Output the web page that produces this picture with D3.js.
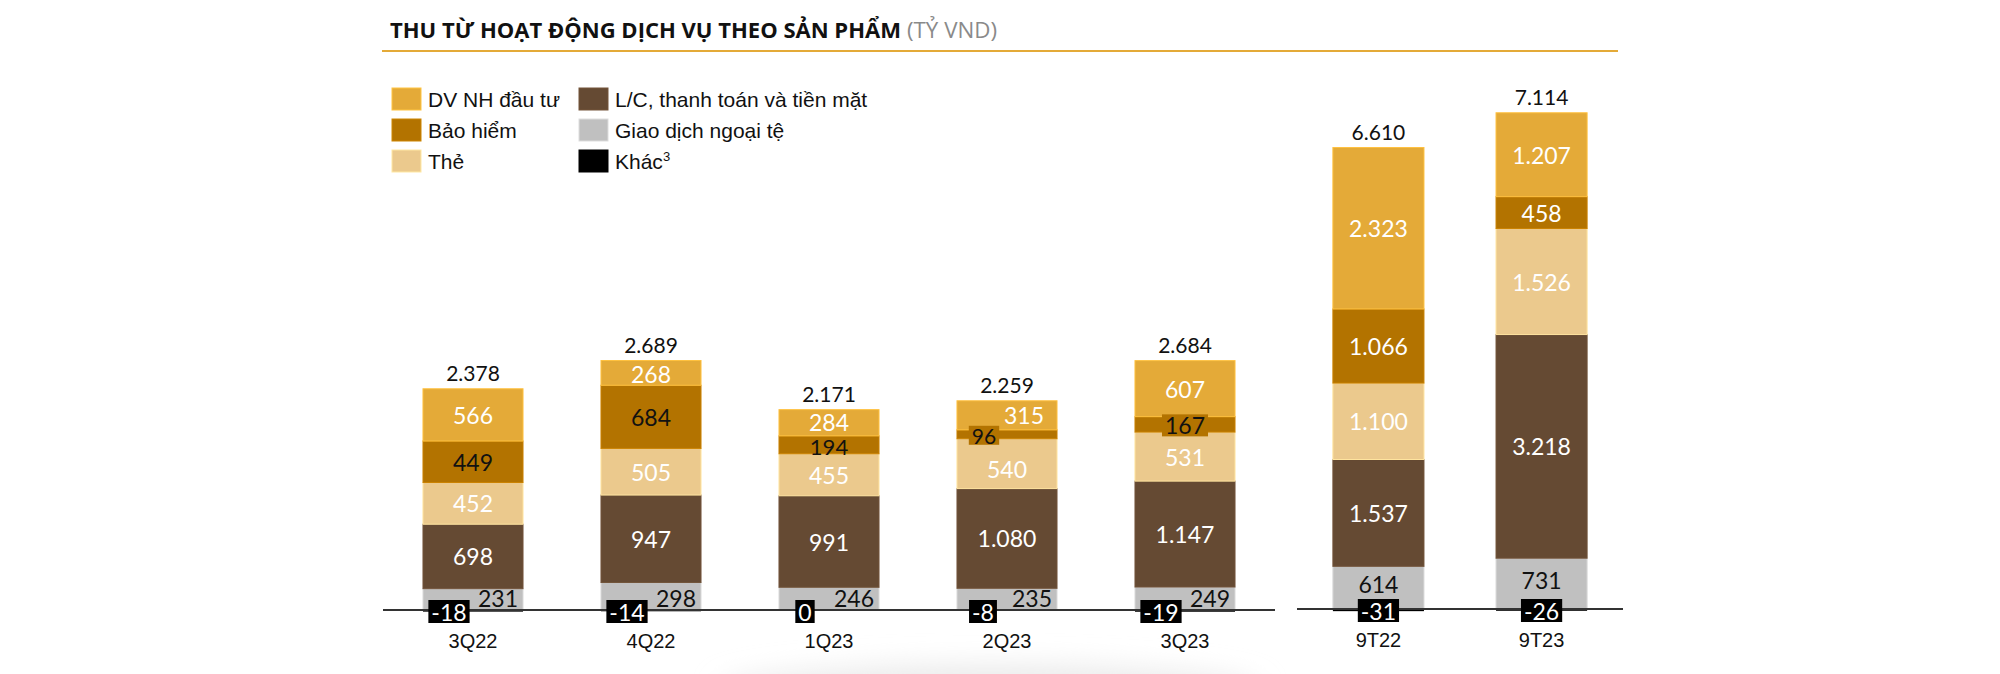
<!DOCTYPE html>
<html><head><meta charset="utf-8">
<script src="https://cdn.jsdelivr.net/npm/d3@7"></script>
<style>body{margin:0;background:#fff;} svg{display:block}</style>
</head><body><svg id="c" width="2000" height="674"></svg>
<script>
// ---------- data ----------
const categories = ["3Q22","4Q22","1Q23","2Q23","3Q23","9T22","9T23"];
const quarterCats = ["3Q22","4Q22","1Q23","2Q23","3Q23"];
const periodCats = ["9T22","9T23"];
const dvNhDauTu   = [566, 268, 284, 315, 607, 2323, 1207];
const baoHiem     = [449, 684, 194,  96, 167, 1066,  458];
const the         = [452, 505, 455, 540, 531, 1100, 1526];
const lcThanhToan = [698, 947, 991,1080,1147, 1537, 3218];
const giaoDichNgoaiTe = [231, 298, 246, 235, 249, 614, 731];
const khac        = [-18, -14,   0,  -8, -19,  -31,  -26];
const totals      = [2378,2689,2171,2259,2684, 6610, 7114];
const legendLabels = ["DV NH đầu tư","Bảo hiểm","Thẻ","L/C, thanh toán và tiền mặt","Giao dịch ngoại tệ","Khác"];

// ---------- style ----------
const keys = ["gd","lc","the","bh","dv"];           // bottom -> top
const colorOf = {dv:"#E4AA38", bh:"#B37300", the:"#EBC98D", lc:"#654A33", gd:"#C0C0C0", kh:"#000000"};
const numFont = "Lato, 'Open Sans', sans-serif";
const txtFont = "'Liberation Sans', Arial, sans-serif";
const fmt = v => d3.format(",")(v).replace(/,/g, ".").replace("\u2212", "-");

const rows = categories.map((c,i) => ({cat:c, i, dv:dvNhDauTu[i], bh:baoHiem[i], the:the[i], lc:lcThanhToan[i], gd:giaoDichNgoaiTe[i], kh:khac[i], total:totals[i]}));
const stacked = d3.stack().keys(keys)(rows);

const svg = d3.select("#c");

// soft shadow near the bottom (as in the reference image)
const defs = svg.append("defs");
defs.append("filter").attr("id", "blur").attr("x", "-20%").attr("y", "-100%").attr("width", "140%").attr("height", "300%")
  .append("feGaussianBlur").attr("stdDeviation", 14);
svg.append("ellipse").attr("cx", 990).attr("cy", 692).attr("rx", 270).attr("ry", 26)
  .attr("fill", "#e9e9e9").attr("filter", "url(#blur)");

// scales: two panels, each with its own scale
const xL = d3.scaleBand().domain(quarterCats).range([384, 1274]).paddingInner(0.438).paddingOuter(0.219);
const xR = d3.scaleBand().domain(periodCats).range([1297, 1623]).paddingInner(0.4417).paddingOuter(0.22);
const yL = d3.scaleLinear().domain([0, 3000]).range([610, 610 - 277]);
const yR = d3.scaleLinear().domain([0, 7000]).range([609, 609 - 486.5]);
const isQ = c => quarterCats.includes(c);
const xs = c => isQ(c) ? xL : xR;
const ys = c => isQ(c) ? yL : yR;

// ---------- title ----------
svg.append("text").attr("x", 390).attr("y", 38)
  .attr("font-family", "'Open Sans', sans-serif").attr("font-weight", 700).attr("font-size", 22)
  .attr("textLength", 511).attr("lengthAdjust", "spacingAndGlyphs").attr("fill", "#111")
  .text("THU TỪ HOẠT ĐỘNG DỊCH VỤ THEO SẢN PHẨM");
svg.append("text").attr("x", 907).attr("y", 38)
  .attr("font-family", "'Open Sans', sans-serif").attr("font-weight", 400).attr("font-size", 22)
  .attr("textLength", 90).attr("lengthAdjust", "spacingAndGlyphs").attr("fill", "#8a8a8a")
  .text("(TỶ VND)");
svg.append("line").attr("x1", 382).attr("x2", 1618).attr("y1", 51).attr("y2", 51)
  .attr("stroke", "#E4AA38").attr("stroke-width", 2);

// ---------- legend ----------
const legendKeys = ["dv","bh","the","lc","gd","kh"];
const lg = svg.append("g");
legendKeys.forEach((k, j) => {
  const col = Math.floor(j / 3), row = j % 3;
  const x = 392 + col * 187, y = 88 + row * 31;
  lg.append("rect").attr("x", x).attr("y", y).attr("width", 29).attr("height", 22)
    .attr("fill", colorOf[k]).attr("stroke", d3.color(colorOf[k]).brighter(0.4)).attr("stroke-width", 1);
  const t = lg.append("text").attr("x", x + 36).attr("y", y + 19)
    .attr("font-family", txtFont).attr("font-size", 21).attr("fill", "#111").text(legendLabels[j]);
  if (k === "kh") t.append("tspan").attr("font-size", 13).attr("dy", -8).text("3");
});

// ---------- bars ----------
const barG = svg.append("g");
stacked.forEach(layer => {
  const k = layer.key;
  barG.selectAll(null).data(layer).join("rect")
    .attr("x", d => xs(d.data.cat)(d.data.cat))
    .attr("width", d => xs(d.data.cat).bandwidth())
    .attr("y", d => ys(d.data.cat)(d[1]))
    .attr("height", d => ys(d.data.cat)(d[0]) - ys(d.data.cat)(d[1]))
    .attr("fill", colorOf[k])
    .attr("stroke", d3.color(colorOf[k]).brighter(0.35)).attr("stroke-width", 1);
});
// negative "Khác" segments below the baseline
barG.selectAll(null).data(rows).join("rect")
  .attr("x", d => xs(d.cat)(d.cat)).attr("width", d => xs(d.cat).bandwidth())
  .attr("y", d => ys(d.cat)(0)).attr("height", d => ys(d.cat)(d.kh) - ys(d.cat)(0))
  .attr("fill", colorOf.kh);

// axis baselines
svg.append("line").attr("x1", xL.range()[0] - 1).attr("x2", xL.range()[1] + 1)
  .attr("y1", yL(0)).attr("y2", yL(0)).attr("stroke", "#333").attr("stroke-width", 2);
svg.append("line").attr("x1", xR.range()[0]).attr("x2", xR.range()[1])
  .attr("y1", yR(0)).attr("y2", yR(0)).attr("stroke", "#333").attr("stroke-width", 2);

// category axis labels
[[xL, yL], [xR, yR]].forEach(([x, y]) => {
  const ax = svg.append("g").attr("transform", `translate(0,${y(0)})`)
    .call(d3.axisBottom(x).tickSize(0).tickPadding(0));
  ax.select(".domain").remove();
  ax.selectAll("text").attr("font-family", txtFont).attr("font-size", 20).attr("fill", "#111")
    .attr("dy", null).attr("y", 38);
});

// ---------- labels ----------
const lab = svg.append("g").attr("font-family", numFont);
function addText(x, y, txt, fill, size, anchor) {
  return lab.append("text").attr("x", x).attr("y", y).attr("text-anchor", anchor || "middle")
    .attr("dominant-baseline", "central").attr("font-size", size || 23).attr("fill", fill).text(txt);
}
function boxedText(cx, cy, txt, fill, bg, h, size) {
  const t = addText(cx, cy, txt, fill, size || 23);
  const w = t.node().getComputedTextLength() + 6;
  lab.insert("rect", () => t.node()).attr("x", cx - w / 2).attr("y", cy - h / 2)
    .attr("width", w).attr("height", h).attr("fill", bg);
}

stacked.forEach(layer => {
  const k = layer.key;
  layer.forEach(d => {
    const c = d.data.cat, x = xs(c), y = ys(c);
    const x0 = x(c), bw = x.bandwidth(), cxm = x0 + bw / 2;
    const yTop = y(d[1]), yBot = y(d[0]), h = yBot - yTop, cy = (yTop + yBot) / 2;
    const v = d.data[k], q = isQ(c);
    if (k === "gd") {
      if (q) addText(x0 + bw - 5, y(0) - 12, fmt(v), "#111", 23, "end");
      else addText(cxm, cy - 4, fmt(v), "#111");
    } else if (k === "bh") {
      if (q && h < 17) {
        const off = c === "2Q23" ? -bw * 0.23 : 0;
        boxedText(cxm + off, cy + 1, fmt(v), "#111", colorOf.bh, c === "2Q23" ? 19 : 22, c === "2Q23" ? 21 : 23);
      } else if (q && h < 20) {
        addText(cxm, cy + 2, fmt(v), "#111", 22);
      } else addText(cxm, cy, fmt(v), q ? "#111" : "#fff");
    } else if (k === "dv") {
      const off = (q && h < 32 && c === "2Q23") ? bw * 0.17 : 0;
      addText(cxm + off, cy + (h < 26 ? 1 : h < 28 ? -1 : 0), fmt(v), "#fff");
    } else {
      addText(cxm, cy + (k === "the" && c === "2Q23" ? 5 : 0), fmt(v), "#fff");
    }
  });
});

// "Khác" boxed labels and totals
rows.forEach(d => {
  const c = d.cat, x = xs(c), y = ys(c), q = isQ(c);
  const x0 = x(c), bw = x.bandwidth();
  const cx = q ? x0 + bw * 0.26 : x0 + bw / 2;
  boxedText(cx, y(0) + 1.5, fmt(d.kh), "#fff", colorOf.kh, 23, 23);
  const top = y(d3.sum(keys, k => d[k]));
  lab.append("text").attr("x", x0 + bw / 2).attr("y", top - 8).attr("text-anchor", "middle")
    .attr("font-size", 21).attr("fill", "#111").text(fmt(d.total));
});
</script>
</body></html>
